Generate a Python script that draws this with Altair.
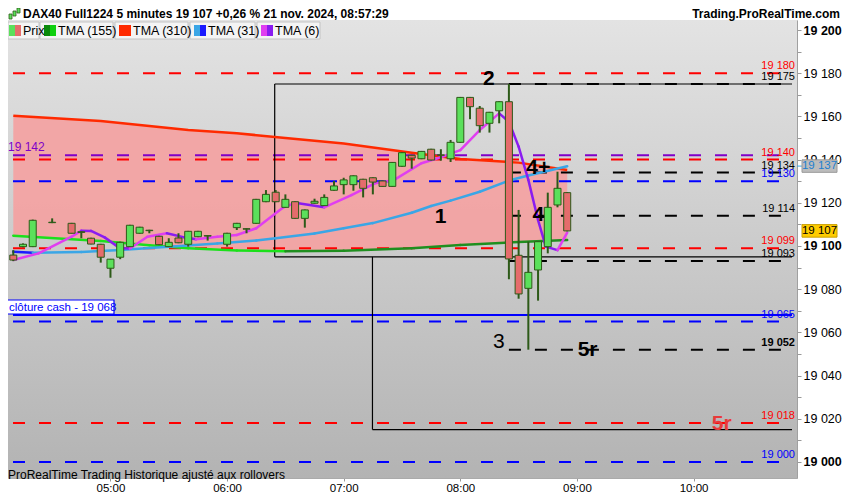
import altair as alt
import pandas as pd

# ---------------- data ----------------
# candle times in minutes since midnight (04:10 = 250)
candle_time = [250, 255, 260, 270, 280, 285, 290, 295, 300, 305, 310, 315, 320, 325,
               330, 335, 340, 345, 350, 360, 365, 370, 375, 380, 385, 390, 395, 400,
               405, 410, 415, 420, 425, 430, 435, 440, 445, 450, 455, 460, 465, 470,
               475, 480, 485, 490, 495, 500, 505, 510, 515, 520, 525, 530, 535]
candle_open = [19095.8, 19099.7, 19099.7, 19110.8, 19110.5, 19106.6, 19103.6, 19100.8,
               19089.7, 19094.8, 19099.7, 19105.9, 19107.3, 19104.5, 19099.7, 19103.7,
               19100.8, 19104.3, 19104.8, 19100.8, 19108.5, 19108.0, 19110.5, 19120.5,
               19124.9, 19117.9, 19120.5, 19112.8, 19119.8, 19118.7, 19125.8, 19128.4,
               19128.4, 19130.9, 19131.6, 19130.1, 19127.6, 19136.9, 19142.0, 19140.4,
               19144.8, 19142.2, 19140.4, 19148.0, 19168.8, 19163.8, 19156.8, 19162.6,
               19166.8, 19095.7, 19080.4, 19088.9, 19099.7, 19119.0, 19124.7]
candle_high = [19098.1, 19101.2, 19112.2, 19112.8, 19110.7, 19106.8, 19103.8, 19101.0,
               19094.0, 19102.0, 19109.8, 19108.9, 19107.5, 19104.7, 19103.6, 19105.9,
               19107.0, 19107.0, 19105.0, 19106.1, 19110.7, 19108.2, 19121.8, 19125.9,
               19125.9, 19123.9, 19120.7, 19116.9, 19121.9, 19123.9, 19130.1, 19131.6,
               19132.7, 19131.1, 19131.8, 19130.3, 19138.9, 19143.4, 19142.2, 19144.0,
               19145.0, 19144.8, 19149.1, 19169.0, 19169.0, 19164.8, 19162.1, 19167.0,
               19175.0, 19116.7, 19102.0, 19102.2, 19124.7, 19134.4, 19125.0]
candle_low = [19093.0, 19099.4, 19099.5, 19110.6, 19105.8, 19103.6, 19100.8, 19092.3,
              19085.3, 19093.9, 19099.5, 19105.7, 19105.9, 19100.4, 19099.5, 19101.3,
              19099.7, 19104.1, 19102.5, 19099.7, 19107.4, 19105.9, 19110.3, 19120.3,
              19120.3, 19117.7, 19112.6, 19108.5, 19119.6, 19118.5, 19125.6, 19123.9,
              19125.6, 19122.5, 19123.9, 19127.4, 19127.4, 19136.7, 19135.8, 19140.2,
              19139.6, 19139.5, 19138.9, 19147.8, 19158.7, 19152.5, 19152.5, 19156.8,
              19084.6, 19075.6, 19052.0, 19074.7, 19096.6, 19117.9, 19106.8]
candle_close = [19093.5, 19100.8, 19111.9, 19111.0, 19105.9, 19106.3, 19100.9, 19094.8,
                19093.9, 19101.7, 19109.6, 19108.7, 19107.1, 19100.6, 19101.7, 19101.5,
                19106.8, 19106.8, 19104.6, 19105.9, 19110.5, 19107.8, 19121.6, 19123.9,
                19120.5, 19121.6, 19112.8, 19116.7, 19120.7, 19122.5, 19127.8, 19130.6,
                19132.5, 19126.7, 19129.6, 19127.6, 19138.7, 19143.2, 19140.7, 19143.8,
                19139.8, 19142.0, 19148.0, 19168.8, 19164.5, 19155.7, 19161.9, 19166.8,
                19094.0, 19077.8, 19087.8, 19102.0, 19117.9, 19126.7, 19107.0]

# moving averages (readings)
ma_time = [250, 295, 320, 340, 365, 390, 420, 455, 480, 510, 535]
tma310 = [19160.3, 19157.9, 19155.6, 19153.7, 19152.2, 19150.0, 19147.5, 19143.2,
          19140.3, 19138.6, 19135.2]
tma155 = [19104.8, 19102.3, 19100.4, 19099.0, 19097.9, 19097.6, 19097.8, 19099.0,
          19100.5, 19101.8, 19102.8]
tma31_time = [250, 260, 285, 305, 330, 355, 375, 385, 405, 420, 435, 455, 465, 475,
              490, 505, 515, 535]
tma31 = [19097.3, 19096.9, 19097.2, 19098.1, 19099.7, 19101.2, 19102.5, 19103.6,
         19105.8, 19108.2, 19110.6, 19115.4, 19118.5, 19121.0, 19125.1, 19130.3,
         19132.6, 19136.9]
tma6_time = [250, 263, 280, 285, 290, 297, 305, 310, 319, 329, 338, 344, 355, 365,
             375, 389, 395, 410, 424, 436, 446, 460, 470, 480, 490, 500, 505, 510,
             515, 520, 524, 530, 535]
tma6 = [19093.5, 19096.6, 19104.3, 19107.1, 19107.0, 19104.0, 19098.9, 19098.8,
        19104.3, 19105.9, 19104.0, 19103.1, 19104.3, 19105.1, 19108.2, 19117.9,
        19120.0, 19117.9, 19123.6, 19129.0, 19130.6, 19138.3, 19141.1, 19144.4,
        19153.7, 19161.4, 19157.5, 19146.0, 19130.6, 19112.0, 19099.7, 19098.1,
        19106.2]

# horizontal levels
level_price = [19180, 19175, 19142, 19140, 19134, 19130, 19114, 19099, 19093, 19065,
               19052, 19018, 19000]
level_color = ["#ff0000", "#000000", "#8000c8", "#ff0000", "#000000", "#0000ff",
               "#000000", "#ff0000", "#000000", "#0000ff", "#000000", "#ff0000", "#0000ff"]
level_start = [None, 505, None, None, 505, None, 505, None, 505, None, 505, None, None]
level_label = ["19 180", "19 175", "", "19 140", "19 134", "19 130", "19 114", "19 099",
               "19 093", "19 065", "19 052", "19 018", "19 000"]
cash_close = 19068
last_price = 19107
tma31_last = 19137

# rectangles drawn on the chart (time, price)
box_t0 = [384.5, 384.5, 384.5, 434.8, 434.8]
box_t1 = [None, None, 384.5, 434.8, None]
box_p0 = [19175, 19095, 19095, 19015, 19015]
box_p1 = [19175, 19095, 19175, 19095, 19015]

# annotations
note_text = ["1", "2", "4+", "4", "5r"]
note_time = [469.8, 494.7, 520.1, 520.1, 545.5]
note_price = [19113.6, 19177.3, 19136.0, 19114.4, 19051.9]

# ---------------- chart ----------------
W, H = 789, 458
XMIN, XMAX = 249.85, 650.66
YMIN, YMAX = 18992.59, 19204.63
ARIAL = "Liberation Sans, Arial, sans-serif"
NARROW = "Liberation Sans Narrow, Arial Narrow, Liberation Sans, sans-serif"

xs = alt.Scale(domain=[XMIN, XMAX], zero=False, nice=False)
ys = alt.Scale(domain=[YMIN, YMAX], zero=False, nice=False)
xaxis = alt.Axis(values=[300, 360, 420, 480, 540, 600],
                 labelExpr="(floor(datum.value/60)<10?'0':'')+floor(datum.value/60)+':00'",
                 tickSize=3, tickColor="#999999", domainColor="#aaaaaa", labelFontSize=11.5,
                 labelFont=NARROW, labelColor="#000000", labelPadding=1, grid=False,
                 title=None, labelFlush=False)
yaxis = alt.Axis(orient="right", values=list(range(19000, 19201, 10)),
                 labelExpr="datum.value % 20 === 0 ? replace(format(datum.value, ','), ',', ' ') : ''",
                 labelFontWeight={"condition": {"test": "datum.value % 100 === 0", "value": "bold"},
                                  "value": "normal"},
                 tickSize=4, tickColor="#999999", domainColor="#a0a0a0", labelFontSize=12.5,
                 labelFont=ARIAL, labelColor="#000000", labelPadding=2, grid=False, title=None)


def X(f):
    return alt.X(f, type="quantitative", scale=xs, axis=xaxis, title=None)


def Y(f):
    return alt.Y(f, type="quantitative", scale=ys, axis=yaxis, title=None)


one = pd.DataFrame({"a": [0]})

# background gradient
bg = alt.Chart(one).mark_rect(
    color=alt.LinearGradient(gradient="linear",
                             stops=[alt.GradientStop(color="#e3e3e3", offset=0),
                                    alt.GradientStop(color="#b3b3b3", offset=1)],
                             x1=0, x2=0, y1=0, y2=1)
).encode(x=alt.value(0), x2=alt.value(W), y=alt.value(0), y2=alt.value(H))

ma_df = pd.DataFrame({"t": ma_time, "r": tma310, "g": tma155})
area = alt.Chart(ma_df).mark_area(color="#f4a2a2", opacity=0.92).encode(
    x=X("t"), y=Y("r"), y2="g")

lv = pd.DataFrame({"p": level_price, "col": level_color,
                   "t0": [XMIN if s is None else s for s in level_start],
                   "lab": level_label})
lv["t1"] = XMAX
dashed = alt.Chart(lv).mark_rule(strokeWidth=2, strokeDash=[12, 14]).encode(
    x=X("t0"), x2="t1", y=Y("p"), color=alt.Color("col:N", scale=None))

cash_df = pd.DataFrame({"p": [cash_close], "t0": [XMIN], "t1": [XMAX]})
cash_line = alt.Chart(cash_df).mark_rule(strokeWidth=2, color="#0000ff").encode(
    x=X("t0"), x2="t1", y=Y("p"))

bx = pd.DataFrame({"t0": box_t0, "t1": [XMAX if v is None else v for v in box_t1],
                   "p0": box_p0, "p1": box_p1})
boxes = alt.Chart(bx).mark_rule(strokeWidth=1.2, color="#000000").encode(
    x=X("t0"), x2="t1", y=Y("p0"), y2="p1")


def segments(ts, vs, up, down):
    rows = []
    for i in range(len(ts) - 1):
        rows.append({"t": ts[i], "t2": ts[i + 1], "v": vs[i], "v2": vs[i + 1],
                     "col": up if vs[i + 1] >= vs[i] else down})
    return pd.DataFrame(rows)


def ma_layer(df, width=2.5):
    return alt.Chart(df).mark_rule(strokeWidth=width, strokeCap="round").encode(
        x=X("t"), x2="t2", y=Y("v"), y2="v2", color=alt.Color("col:N", scale=None))


red_line = alt.Chart(ma_df).mark_line(color="#ff2a00", strokeWidth=2.5).encode(
    x=X("t"), y=Y("r"))
green_line = ma_layer(segments(ma_time, tma155, "#1f8f1f", "#1be01b"))
blue_line = ma_layer(segments(tma31_time, tma31, "#3aa6e6", "#1a1aff"))
mag_line = ma_layer(segments(tma6_time, tma6, "#e03ef0", "#8a1cf0"))

cd = pd.DataFrame({"t": candle_time, "o": candle_open, "h": candle_high,
                   "l": candle_low, "c": candle_close})
cd["dir"] = ["up" if c >= o else "down" for o, c in zip(cd.o, cd.c)]
wicks = alt.Chart(cd).mark_rule(strokeWidth=2, color="#2d5a18", clip=True).encode(
    x=X("t"), y=Y("l"), y2="h")
bodies = alt.Chart(cd).mark_bar(size=7, stroke="#2d5a18", strokeWidth=1, clip=True).encode(
    x=X("t"), y=Y("o"), y2="c",
    color=alt.Color("dir:N", scale=alt.Scale(domain=["up", "down"],
                                             range=["#5be05b", "#e56c6c"]), legend=None))

# level labels (right side)
LABX = W - 2
lab_norm = alt.Chart(lv[(lv.lab != "") & (lv.lab != "19 052")]).mark_text(
    align="right", baseline="alphabetic", dy=-4, fontSize=11, font=ARIAL).encode(
    x=alt.value(LABX), y=Y("p"), text="lab:N", color=alt.Color("col:N", scale=None))
lab_bold = alt.Chart(lv[lv.lab == "19 052"]).mark_text(
    align="right", baseline="alphabetic", dy=-4, fontSize=11, font=ARIAL,
    fontWeight="bold").encode(
    x=alt.value(LABX), y=Y("p"), text="lab:N", color=alt.Color("col:N", scale=None))
lab_left = alt.Chart(pd.DataFrame({"p": [19142], "lab": ["19 142"]})).mark_text(
    align="left", baseline="alphabetic", dy=-4, fontSize=12, font=ARIAL,
    color="#8000c8").encode(x=alt.value(0), y=Y("p"), text="lab:N")

# clôture cash box
cash_box = alt.Chart(one).mark_rect(fill="#ffffff", stroke="#0000ff", strokeWidth=1.2).encode(
    x=alt.value(-2), x2=alt.value(106), y=alt.value(280), y2=alt.value(294))
cash_txt = alt.Chart(pd.DataFrame({"s": ["clôture cash -  19 068"]})).mark_text(
    align="left", baseline="middle", fontSize=11.5, font=ARIAL, color="#0000ff").encode(
    x=alt.value(1), y=alt.value(287.5), text="s:N")

# annotations
nt = pd.DataFrame({"t": note_time, "p": note_price, "s": note_text})
notes = alt.Chart(nt).mark_text(fontSize=21, fontWeight="bold", font=ARIAL,
                                color="#000000", baseline="middle").encode(
    x=X("t"), y=Y("p"), text="s:N")
note3 = alt.Chart(pd.DataFrame({"t": [499.8], "p": [19055.6], "s": ["3"]})).mark_text(
    fontSize=21, font=ARIAL, color="#000000", baseline="middle").encode(
    x=X("t"), y=Y("p"), text="s:N")
note5 = alt.Chart(pd.DataFrame({"t": [614.5], "p": [19017.6], "s": ["5r"]})).mark_text(
    fontSize=21, fontWeight="bold", font=ARIAL, color="#e83a3a", baseline="middle").encode(
    x=X("t"), y=Y("p"), text="s:N")

# price boxes on the right axis
pb = pd.DataFrame({"p": [tma31_last, last_price],
                   "s": ["19 137", "19 107"]})
pb["p1"] = pb.p + 2.9
pb["p2"] = pb.p - 2.9
BX0, BX1 = W + 5, W + 40
pbox1 = alt.Chart(pb.iloc[[0]]).mark_rect(fill="#bcbcbc", stroke="#9a9a9a").encode(
    x=alt.value(BX0), x2=alt.value(BX1), y=Y("p1"), y2="p2")
pbox2 = alt.Chart(pb.iloc[[1]]).mark_rect(fill="#ffcc00", stroke="#c9a000").encode(
    x=alt.value(BX0), x2=alt.value(BX1), y=Y("p1"), y2="p2")
ptick = alt.Chart(pb.iloc[[0]]).mark_rule(color="#3aa6e6", strokeWidth=1).encode(
    x=alt.value(W), x2=alt.value(BX0), y=Y("p"))
ptxt1 = alt.Chart(pb.iloc[[0]]).mark_text(align="center", baseline="middle", fontSize=11.5,
                                          font=ARIAL, color="#1d7fcf").encode(
    x=alt.value((BX0 + BX1) / 2), y=Y("p"), text="s:N")
ptxt2 = alt.Chart(pb.iloc[[1]]).mark_text(align="center", baseline="middle", fontSize=11.5,
                                          font=ARIAL, color="#000000").encode(
    x=alt.value((BX0 + BX1) / 2), y=Y("p"), text="s:N")

# header
header = alt.Chart(pd.DataFrame({"s": ["DAX40 Full1224 5 minutes 19 107 +0,26 % 21 nov. 2024, 08:57:29"]})).mark_text(
    align="left", baseline="middle", fontSize=12, fontWeight="bold", font=ARIAL,
    color="#000000").encode(x=alt.value(15), y=alt.value(-6.5), text="s:N")
site = alt.Chart(pd.DataFrame({"s": ["Trading.ProRealTime.com"]})).mark_text(
    align="right", baseline="middle", fontSize=12, fontWeight="bold", font=ARIAL,
    color="#000000").encode(x=alt.value(832), y=alt.value(-6.5), text="s:N")
icon = alt.Chart(pd.DataFrame({"x0": [1, 5, 9], "x1": [4, 8, 12],
                               "y0": [-6, -9, -12], "y1": [-1, -4, -7]})).mark_rect(
    fill="#5be05b", stroke="#2d5a18", strokeWidth=0.8).encode(
    x=alt.X("x0:Q", scale=None), x2="x1", y=alt.Y("y0:Q", scale=None), y2="y1")

# legend row
leg = pd.DataFrame({
    "name": ["Prix", "TMA (155)", "TMA (310)", "TMA (31)", "TMA (6)"],
    "bx0": [0, 32, 107, 182, 249], "bx1": [31, 105, 180, 247, 312],
    "sx": [1, 36, 111, 186, 253],
    "c1": ["#5be05b", "#0a8a0a", "#ff2a00", "#3aa6e6", "#e03ef0"],
    "c2": ["#e56c6c", "#10d010", "#ff2a00", "#1a1aff", "#8a1cf0"],
})
leg["sm"] = leg.sx + 6
leg["se"] = leg.sx + 12
leg["tx"] = leg.sx + 14
leg_box = alt.Chart(leg).mark_rect(fill="#f4f4f4", stroke="#c4c4c4", strokeWidth=1).encode(
    x=alt.X("bx0:Q", scale=None), x2="bx1", y=alt.value(2), y2=alt.value(19))
leg_s1 = alt.Chart(leg).mark_rect().encode(
    x=alt.X("sx:Q", scale=None), x2="sm", y=alt.value(5), y2=alt.value(16),
    color=alt.Color("c1:N", scale=None))
leg_s2 = alt.Chart(leg).mark_rect().encode(
    x=alt.X("sm:Q", scale=None), x2="se", y=alt.value(5), y2=alt.value(16),
    color=alt.Color("c2:N", scale=None))
leg_t = alt.Chart(leg).mark_text(align="left", baseline="middle", fontSize=12.5,
                                 font=ARIAL, color="#000000").encode(
    x=alt.X("tx:Q", scale=None), y=alt.value(11), text="name:N")

footer = alt.Chart(pd.DataFrame({"s": ["ProRealTime Trading  Historique ajusté aux rollovers"]})).mark_text(
    align="left", baseline="middle", fontSize=12, font=NARROW, color="#000000").encode(
    x=alt.value(0), y=alt.value(H - 3), text="s:N")

chart = alt.layer(
    bg, area, dashed, cash_line, boxes, red_line, green_line, blue_line, mag_line,
    wicks, bodies, lab_norm, lab_bold, lab_left, cash_box, cash_txt, notes, note3, note5,
    ptick, pbox1, pbox2, ptxt1, ptxt2, header, site, icon, leg_box, leg_s1, leg_s2, leg_t,
    footer
).properties(
    width=W, height=H,
    autosize=alt.AutoSizeParams(type="none"),
    padding={"left": 0, "top": 12, "right": 45, "bottom": 14},
).configure_view(strokeWidth=0).configure(background="#ffffff")

chart.save("out.html", embed_options={"renderer": "svg", "actions": False})
